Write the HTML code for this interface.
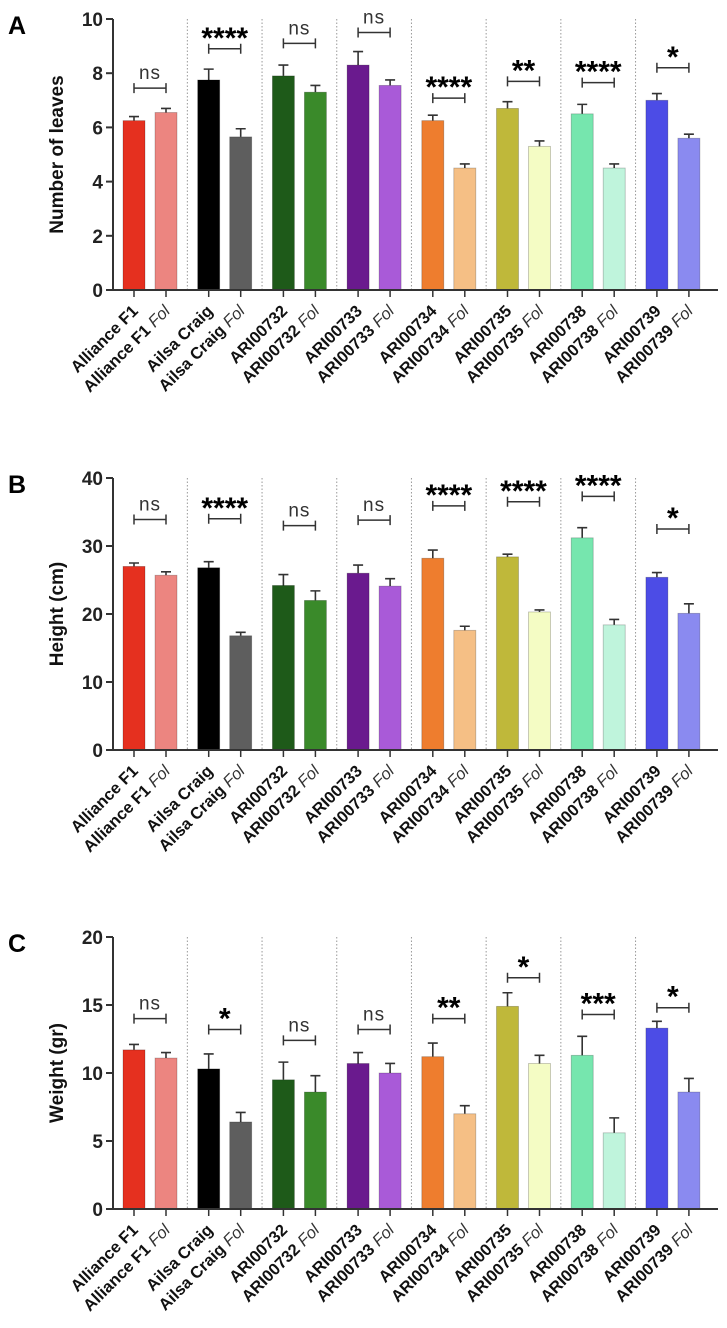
<!DOCTYPE html>
<html><head><meta charset="utf-8"><style>
body{margin:0;background:#fff}
svg{display:block;font-family:"Liberation Sans",sans-serif}
</style></head><body>
<svg id="fig" width="727" height="1328" viewBox="0 0 727 1328" xmlns="http://www.w3.org/2000/svg"></svg>
<script>
const groups = ["Alliance F1","Ailsa Craig","ARI00732","ARI00733","ARI00734","ARI00735","ARI00738","ARI00739"];
const colorsCtrl = ["#e5301f","#000000","#1e5a19","#6a1a8e","#ee7d2e","#bfb83a","#76e6ae","#4c4ce6"];
const colorsFol  = ["#ec8580","#5e5e5e","#3a8a2a","#a95ad8","#f5bf85","#f4fcc4","#bff4dc","#8a8af0"];
const leavesCtrl = [6.25,7.75,7.9,8.3,6.25,6.7,6.5,7.0];
const leavesCtrlErr = [0.15,0.4,0.4,0.5,0.2,0.25,0.35,0.25];
const leavesFol = [6.55,5.65,7.3,7.55,4.5,5.3,4.5,5.6];
const leavesFolErr = [0.15,0.3,0.25,0.2,0.15,0.2,0.15,0.15];
const leavesSig = ["ns","****","ns","ns","****","**","****","*"];
const leavesSigY = [7.45,8.9,9.1,9.5,7.08,7.7,7.65,8.2];
const heightCtrl = [27,26.8,24.2,26,28.2,28.4,31.2,25.4];
const heightCtrlErr = [0.5,0.9,1.6,1.2,1.2,0.4,1.5,0.7];
const heightFol = [25.7,16.8,22,24.1,17.6,20.3,18.4,20.1];
const heightFolErr = [0.5,0.5,1.4,1.1,0.6,0.3,0.8,1.4];
const heightSig = ["ns","****","ns","ns","****","****","****","*"];
const heightSigY = [33.9,34.0,33.0,33.8,35.9,36.5,37.3,32.5];
const weightCtrl = [11.7,10.3,9.5,10.7,11.2,14.9,11.3,13.3];
const weightCtrlErr = [0.4,1.1,1.3,0.8,1.0,1.0,1.4,0.5];
const weightFol = [11.1,6.4,8.6,10.0,7.0,10.7,5.6,8.6];
const weightFolErr = [0.4,0.7,1.2,0.7,0.6,0.6,1.1,1.0];
const weightSig = ["ns","*","ns","ns","**","*","***","*"];
const weightSigY = [14.0,13.2,12.4,13.2,14.0,17.0,14.3,14.8];
const leavesTicks = [0,2,4,6,8,10];
const heightTicks = [0,10,20,30,40];
const weightTicks = [0,5,10,15,20];

const NS="http://www.w3.org/2000/svg";
const svg=document.getElementById('fig');
function mk(tag,attrs,parent,text){const e=document.createElementNS(NS,tag);for(const k in attrs)e.setAttribute(k,attrs[k]);if(text!==undefined)e.textContent=text;(parent||svg).appendChild(e);return e;}
const AX=113, XEND=718, G0=150, GW=74.7, OFF=16, BW=22;
function gx(i){return G0+GW*i;}

function panel(key,letter,top,bottom,max,ticks,yTitle,ctrl,ctrlErr,fol,folErr,sig,sigY){
  const g=mk('g',{});
  
  
  const y=v=>bottom-(v/max)*(bottom-top);
  const L=mk('text',{x:8,y:top+15,'font-size':25,'font-weight':'bold'},g,letter);
  
  
  for(let i=1;i<groups.length;i++){
    const sx=(gx(i-1)+gx(i))/2;
    const s=mk('line',{x1:sx,x2:sx,y1:top,y2:bottom,stroke:'#999','stroke-width':1,'stroke-dasharray':'1.5,2'},g);
    
    
  }
  groups.forEach((name,i)=>{
    [[ctrl,ctrlErr,colorsCtrl,-OFF,''],[fol,folErr,colorsFol,OFF,'-fol']].forEach(([vals,errs,cols,off,suf])=>{
      const cx=gx(i)+off, v=vals[i], e=errs[i];
      const eb=mk('path',{d:`M${cx} ${y(v)}V${y(v+e)}M${cx-5} ${y(v+e)}H${cx+5}`,stroke:'#333','stroke-width':1.6,fill:'none'},g);
      
      
      const r=mk('rect',{x:cx-BW/2,y:y(v),width:BW,height:bottom-y(v),fill:cols[i],stroke:'rgba(0,0,0,0.25)','stroke-width':0.8},g);
      
      
      mk('line',{x1:cx,x2:cx,y1:bottom,y2:bottom+7,stroke:'#333','stroke-width':1.5},g);
      const lab=mk('text',{transform:`translate(${cx+5},${bottom+22}) rotate(-45)`,'text-anchor':'end','font-size':16.5,'font-weight':'bold',fill:'#111'},g);
      
      
      mk('tspan',{},lab,name);
      if(suf){mk('tspan',{'font-style':'italic','font-weight':'normal',fill:'#333'},lab,' Fol');}
    });
    const by=y(sigY[i]), x1=gx(i)-OFF, x2=gx(i)+OFF;
    const br=mk('path',{d:`M${x1} ${by}H${x2}M${x1} ${by-5}V${by+5}M${x2} ${by-5}V${by+5}`,stroke:'#333','stroke-width':1.5,fill:'none'},g);
    
    
    const isNs=sig[i]==='ns';
    const st=mk('text',{x:gx(i),y:isNs?by-9:by-1,'text-anchor':'middle','font-size':isNs?19:30,'font-weight':isNs?'normal':'bold',fill:isNs?'#333':'#000','letter-spacing':isNs?1:0},g,sig[i]);
    
    
  });
  const ya=mk('line',{x1:AX,x2:AX,y1:top,y2:bottom,stroke:'#333','stroke-width':2},g);
  
  
  const xa=mk('line',{x1:AX-7,x2:XEND,y1:bottom,y2:bottom,stroke:'#333','stroke-width':2},g);
  
  
  ticks.forEach(t=>{
    mk('line',{x1:AX-7,x2:AX,y1:y(t),y2:y(t),stroke:'#333','stroke-width':2},g);
    const tl=mk('text',{x:AX-10,y:y(t)+7,'text-anchor':'end','font-size':19,'font-weight':'bold',fill:'#222'},g,t);
    
    
  });
  const yt=mk('text',{transform:`translate(63,${(top+bottom)/2}) rotate(-90)`,'text-anchor':'middle','font-size':19,'font-weight':'bold',fill:'#111'},g,yTitle);
  
  
}
panel('a','A',19,290,10,leavesTicks,'Number of leaves',leavesCtrl,leavesCtrlErr,leavesFol,leavesFolErr,leavesSig,leavesSigY);
panel('b','B',478,750,40,heightTicks,'Height (cm)',heightCtrl,heightCtrlErr,heightFol,heightFolErr,heightSig,heightSigY);
panel('c','C',937,1209,20,weightTicks,'Weight (gr)',weightCtrl,weightCtrlErr,weightFol,weightFolErr,weightSig,weightSigY);
</script>
</body></html>
